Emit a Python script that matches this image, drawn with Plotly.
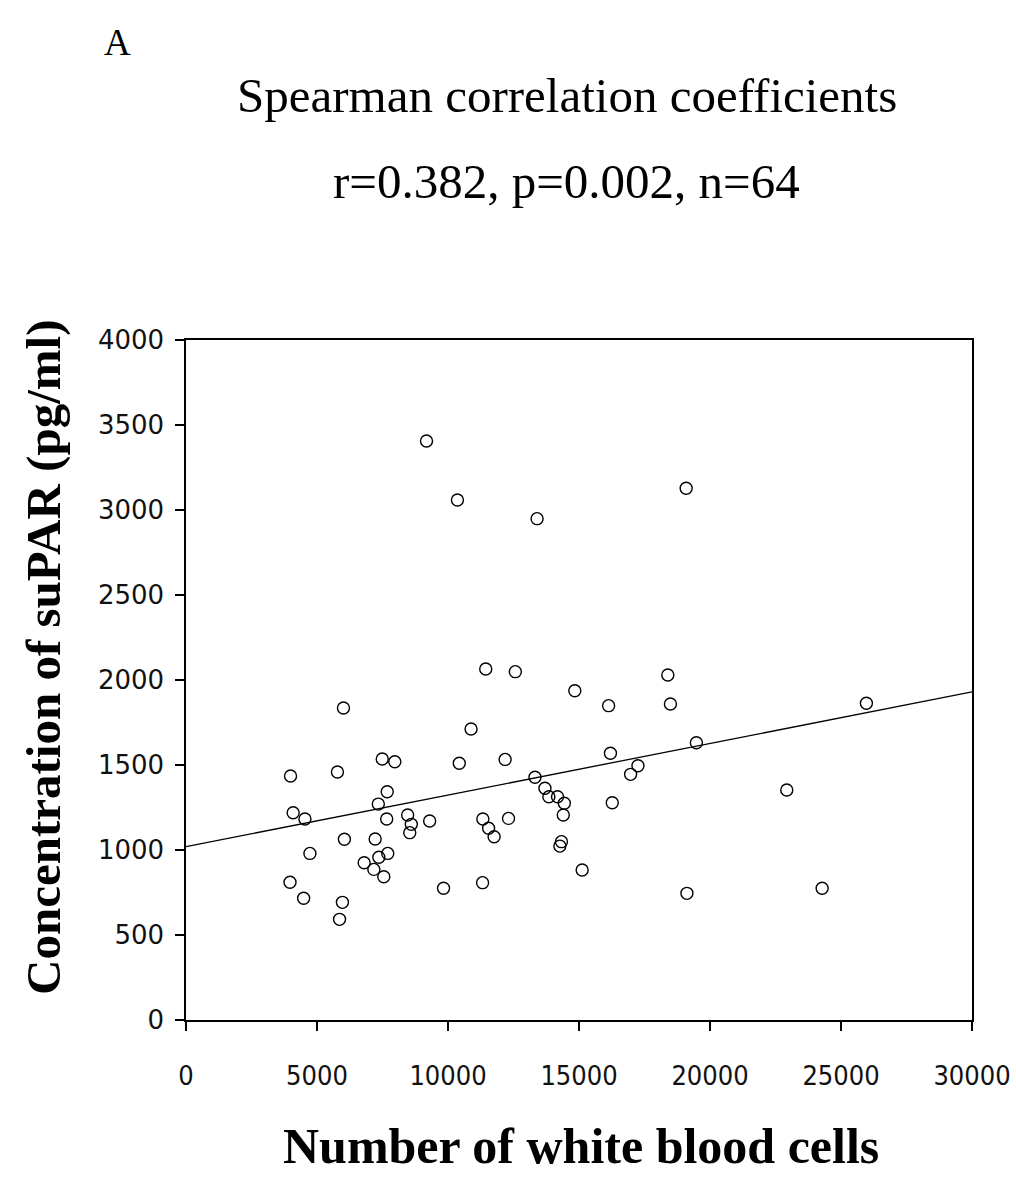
import plotly.graph_objects as go

# White blood cell counts and suPAR concentrations (pg/ml)
wbc = [
    11440, 12570, 6010, 10880, 7490, 7970, 10430, 12180, 3990, 5780,
    13320, 7680, 13700, 13850, 14180, 14440, 14400, 7340, 4090, 4540,
    7660, 8460, 8600, 8540, 9300, 11330, 11550, 11760, 12310, 14270,
    14330, 6045, 7220, 4730, 7700, 7360, 6800, 7170, 7550, 3970,
    4490, 5970, 5860, 9830, 11320,
    14840, 16130, 18390, 18490, 25970, 16200, 17250, 16970, 19480, 16270,
    22930, 15120, 19120, 24280,
    9180, 10360, 13400, 19090,
]
supar = [
    2065, 2049, 1835, 1712, 1535, 1519, 1510, 1533, 1435, 1459,
    1428, 1343, 1363, 1313, 1313, 1275, 1206, 1270, 1219, 1182,
    1182, 1206, 1151, 1102, 1171, 1182, 1128, 1078, 1186, 1023,
    1049, 1063, 1065, 980, 980, 957, 925, 886, 843, 810,
    716, 692, 592, 775, 808,
    1937, 1849, 2029, 1859, 1863, 1569, 1496, 1445, 1631, 1278,
    1353, 882, 745, 775,
    3406, 3059, 2949, 3128,
]

# Linear trend line end points
trend_x = [0, 30000]
trend_y = [1020, 1930]

x_ticks = [0, 5000, 10000, 15000, 20000, 25000, 30000]
y_ticks = [0, 500, 1000, 1500, 2000, 2500, 3000, 3500, 4000]

serif = "Liberation Serif"
W, H = 1016, 1185
ML, MR, MT, MB = 186, 44, 340, 165
plot_w = W - ML - MR
plot_h = H - MT - MB


def px_to_paper(px, py):
    """Convert page pixel coordinates into paper coordinates."""
    return (px - ML) / plot_w, (H - MB - py) / plot_h


fig = go.Figure()
fig.add_trace(go.Scatter(
    x=trend_x, y=trend_y, mode="lines",
    line=dict(color="black", width=1.3),
    showlegend=False, hoverinfo="skip",
))
fig.add_trace(go.Scatter(
    x=wbc, y=supar, mode="markers",
    marker=dict(symbol="circle-open", size=12, color="black",
                line=dict(color="black", width=1.4)),
    showlegend=False,
))

texts = [
    ("A", 117, 42, 37, 0),
    ("Spearman correlation coefficients", 567, 96, 49, 0),
    ("r=0.382, p=0.002, n=64", 566, 182, 49, 0),
    ("<b>Number of white blood cells</b>", 581, 1146, 50, 0),
    ("<b>Concentration of suPAR (pg/ml)</b>", 43, 657, 49, -90),
]
annotations = []
for text, px, py, size, angle in texts:
    ax, ay = px_to_paper(px, py)
    annotations.append(dict(
        text=text, x=ax, y=ay, xref="paper", yref="paper",
        xanchor="center", yanchor="middle", showarrow=False,
        textangle=angle, font=dict(family=serif, size=size, color="black"),
    ))

fig.update_layout(
    width=W, height=H,
    margin=dict(l=ML, r=MR, t=MT, b=MB, autoexpand=False),
    paper_bgcolor="white", plot_bgcolor="white",
    font=dict(family="DejaVu Sans", color="black"),
    annotations=annotations,
)

fig.update_xaxes(
    range=[0, 30000], tickvals=x_ticks, ticktext=[str(v) for v in x_ticks],
    showline=True, linecolor="black", linewidth=1.5, mirror=True,
    ticks="outside", ticklen=9, tickwidth=1.5, tickcolor="black",
    showgrid=False, zeroline=False, automargin=False,
    tickfont=dict(family="DejaVu Sans Condensed", size=27, color="#111"),
    ticklabelstandoff=22,
)
fig.update_yaxes(
    range=[0, 4000], tickvals=y_ticks, ticktext=[str(v) for v in y_ticks],
    showline=True, linecolor="black", linewidth=1.5, mirror=True,
    ticks="outside", ticklen=9, tickwidth=1.5, tickcolor="black",
    showgrid=False, zeroline=False, automargin=False,
    tickfont=dict(family="DejaVu Sans", size=26, color="#111"),
    ticklabelstandoff=6,
)

fig.write_html("out.html")
